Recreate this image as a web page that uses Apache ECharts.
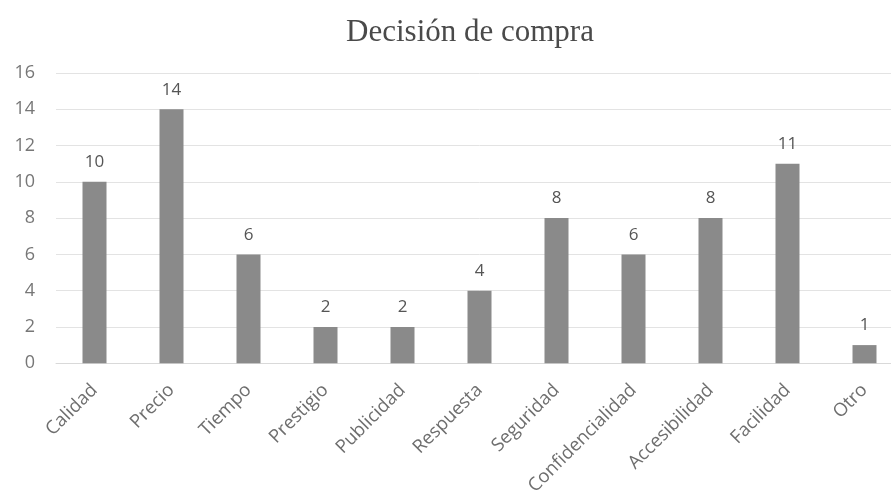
<!DOCTYPE html>
<html>
<head>
<meta charset="utf-8">
<style>
  html, body { margin: 0; padding: 0; background: #ffffff; overflow: hidden; }
  /* canvas is a little wider than the window: the last column is cut by the edge */
  #chart { width: 904px; height: 498px; }
</style>
<script src="https://cdn.jsdelivr.net/npm/echarts@6/dist/echarts.min.js"></script>
</head>
<body>
<div id="chart"></div>
<script>
// Factores de decisión de compra
const categories = ['Calidad', 'Precio', 'Tiempo', 'Prestigio', 'Publicidad', 'Respuesta',
  'Seguridad', 'Confidencialidad', 'Accesibilidad', 'Facilidad', 'Otro'];
const counts = [10, 14, 6, 2, 2, 4, 8, 6, 8, 11, 1];
const yTicks = { min: 0, max: 16, interval: 2 };

const labelFont = '"Open Sans", "Liberation Sans", sans-serif';

const chart = echarts.init(document.getElementById('chart'), null, { renderer: 'canvas' });
chart.setOption({
  animation: false,
  backgroundColor: '#ffffff',
  title: {
    text: 'Decisión de compra',
    left: 465,
    textAlign: 'center',
    top: 12,
    textStyle: {
      fontFamily: '"Liberation Serif", "DejaVu Serif", serif',
      fontSize: 31,
      fontWeight: 'normal',
      color: '#4a4a4a'
    }
  },
  grid: { left: 56, top: 73, width: 847, height: 291, containLabel: false },
  xAxis: {
    type: 'category',
    data: categories,
    axisLine: { lineStyle: { color: '#d9d9d9', width: 1 } },
    axisTick: { show: false },
    axisLabel: {
      rotate: 45,
      interval: 0,
      margin: 24,
      fontFamily: labelFont,
      fontSize: 18.5,
      color: '#6e6e6e'
    }
  },
  yAxis: {
    type: 'value',
    min: yTicks.min,
    max: yTicks.max,
    interval: yTicks.interval,
    axisLine: { show: false },
    axisTick: { show: false },
    splitLine: { lineStyle: { color: '#e3e3e3', width: 1 } },
    axisLabel: {
      margin: 21,
      fontFamily: labelFont,
      fontSize: 18,
      color: '#777777'
    }
  },
  series: [{
    type: 'bar',
    data: counts,
    barWidth: 24,
    itemStyle: { color: '#8a8a8a' },
    label: {
      show: true,
      position: 'top',
      distance: 11,
      fontFamily: labelFont,
      fontSize: 17,
      color: '#555555'
    }
  }]
});
</script>
</body>
</html>
